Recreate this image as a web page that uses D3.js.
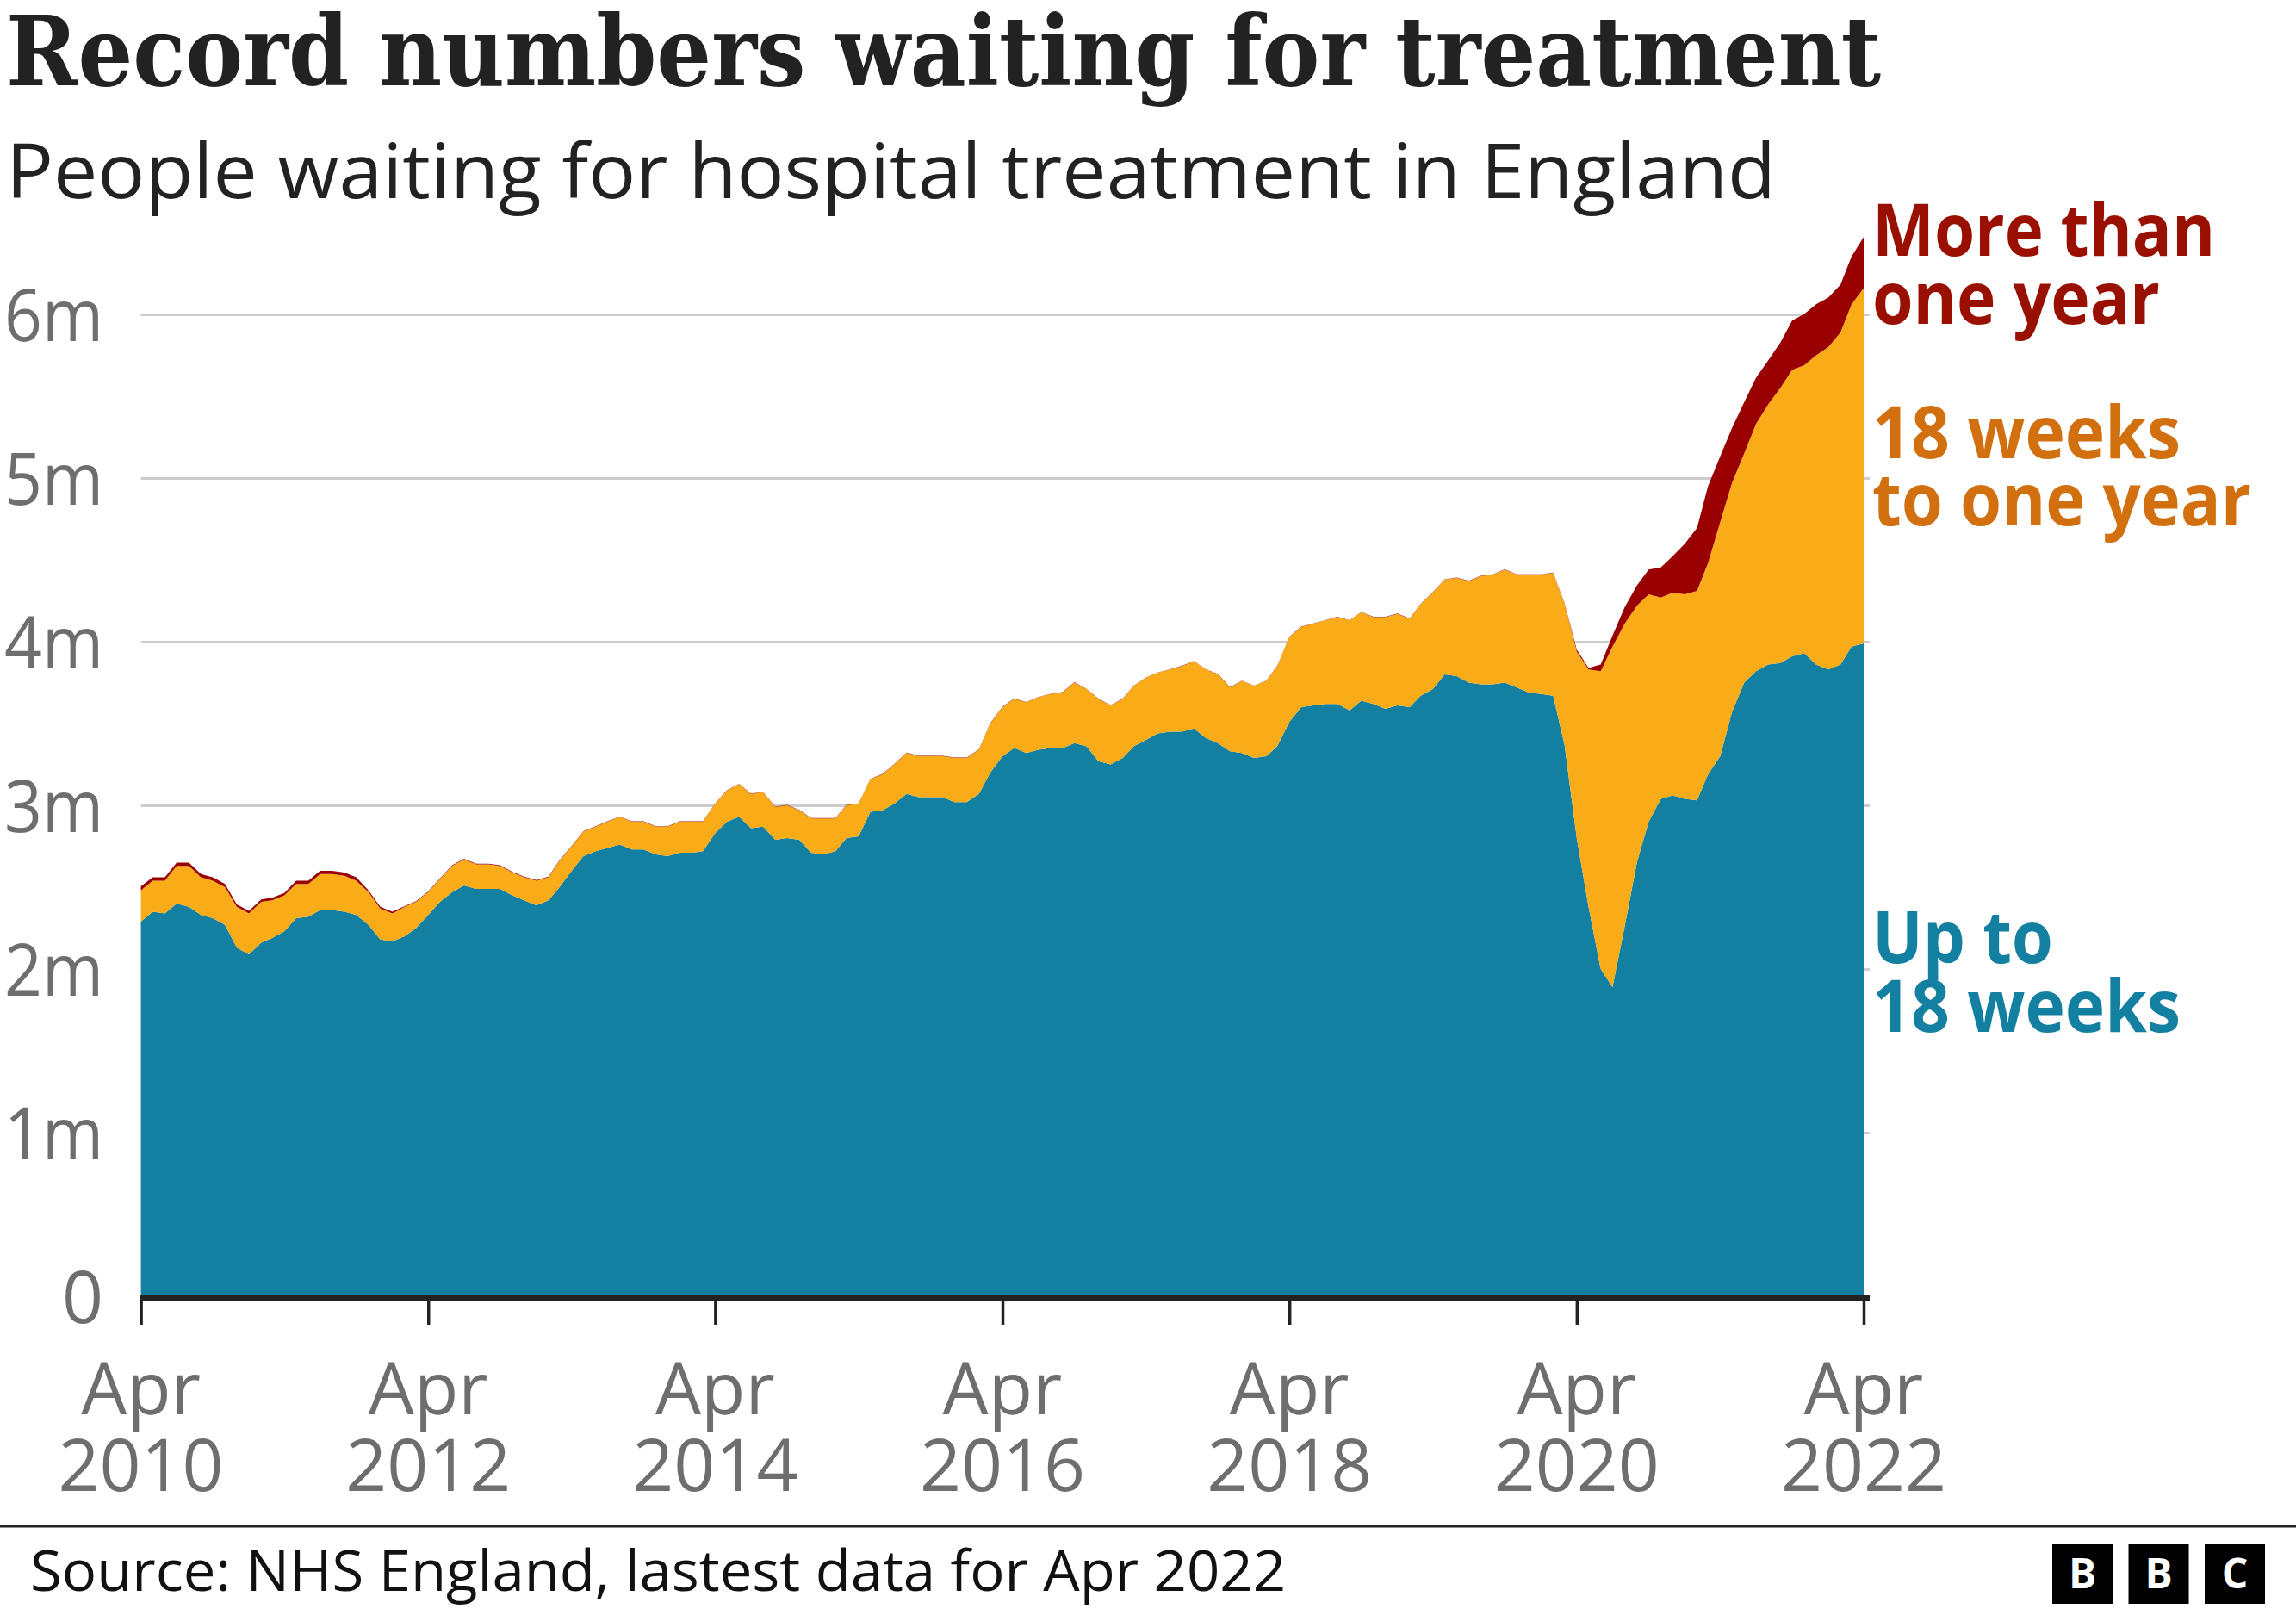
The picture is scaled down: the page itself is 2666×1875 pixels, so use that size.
<!DOCTYPE html>
<html>
<head>
<meta charset="utf-8">
<script src="https://cdn.jsdelivr.net/npm/d3@7"></script>
<style>
  html, body { margin: 0; padding: 0; background: #fff; }
  svg { display: block; }
</style>
</head>
<body>
<svg id="chart" width="2666" height="1875"></svg>
<script>
// ---------- DATA (millions of people, monthly from Apr 2010 to Apr 2022) ----------
const startMonth = "2010-04";
const seriesKeys = ["upTo18Weeks", "weeks18ToOneYear", "moreThanOneYear"];

const upTo18Weeks = [
  2.29, 2.35, 2.34, 2.40, 2.38, 2.33, 2.31, 2.27, 2.13, 2.09,
  2.16, 2.19, 2.23, 2.31, 2.32, 2.36, 2.36, 2.35, 2.33, 2.27,
  2.18, 2.17, 2.20, 2.25, 2.33, 2.41, 2.47, 2.51, 2.49, 2.49,
  2.49, 2.45, 2.42, 2.39, 2.42, 2.50, 2.60, 2.69, 2.72, 2.74,
  2.76, 2.73, 2.73, 2.70, 2.69, 2.71, 2.71, 2.72, 2.83, 2.90,
  2.93, 2.86, 2.87, 2.79, 2.80, 2.79, 2.71, 2.70, 2.72, 2.80,
  2.81, 2.96, 2.97, 3.01, 3.07, 3.05, 3.05, 3.05, 3.02, 3.02,
  3.07, 3.20, 3.30, 3.35, 3.32, 3.34, 3.35, 3.35, 3.38, 3.36,
  3.27, 3.25, 3.29, 3.36, 3.40, 3.44, 3.45, 3.45, 3.47, 3.41,
  3.38, 3.33, 3.32, 3.29, 3.30, 3.36, 3.51, 3.60, 3.61, 3.62,
  3.62, 3.58, 3.64, 3.62, 3.59, 3.61, 3.60, 3.67, 3.71, 3.80,
  3.79, 3.75, 3.74, 3.74, 3.75, 3.72, 3.69, 3.68, 3.67, 3.37,
  2.80, 2.38, 2.00, 1.89, 2.26, 2.65, 2.90, 3.04, 3.06, 3.04,
  3.03, 3.19, 3.30, 3.57, 3.75, 3.82, 3.86, 3.87, 3.91, 3.93,
  3.86, 3.83, 3.86, 3.97, 3.99
];

const weeks18ToOneYear = [
  0.19, 0.19, 0.20, 0.23, 0.25, 0.23, 0.23, 0.23, 0.25, 0.25,
  0.25, 0.23, 0.22, 0.21, 0.20, 0.22, 0.22, 0.22, 0.21, 0.20,
  0.19, 0.17, 0.18, 0.16, 0.14, 0.14, 0.16, 0.16, 0.15, 0.15,
  0.14, 0.14, 0.14, 0.15, 0.14, 0.16, 0.15, 0.15, 0.15, 0.16,
  0.17, 0.17, 0.17, 0.17, 0.18, 0.19, 0.19, 0.18, 0.18, 0.19,
  0.20, 0.21, 0.21, 0.20, 0.20, 0.18, 0.21, 0.22, 0.20, 0.20,
  0.20, 0.20, 0.22, 0.24, 0.25, 0.25, 0.25, 0.25, 0.27, 0.27,
  0.27, 0.30, 0.30, 0.30, 0.31, 0.32, 0.33, 0.34, 0.37, 0.35,
  0.38, 0.36, 0.36, 0.37, 0.38, 0.37, 0.38, 0.40, 0.41, 0.42,
  0.42, 0.39, 0.44, 0.44, 0.46, 0.49, 0.52, 0.49, 0.50, 0.51,
  0.53, 0.55, 0.54, 0.53, 0.56, 0.56, 0.54, 0.56, 0.59, 0.58,
  0.60, 0.62, 0.66, 0.67, 0.69, 0.69, 0.72, 0.73, 0.75, 0.86,
  1.14, 1.45, 1.82, 2.08, 1.85, 1.57, 1.39, 1.23, 1.24, 1.25,
  1.28, 1.29, 1.43, 1.40, 1.40, 1.51, 1.59, 1.68, 1.75, 1.76,
  1.89, 1.97, 2.03, 2.09, 2.17
];

const moreThanOneYear = [
  0.025, 0.020, 0.020, 0.020, 0.020, 0.020, 0.020, 0.020, 0.015, 0.015,
  0.015, 0.015, 0.015, 0.020, 0.020, 0.020, 0.020, 0.020, 0.020, 0.010,
  0.010, 0.010, 0.004, 0.004, 0.004, 0.004, 0.004, 0.004, 0.004, 0.004,
  0.004, 0.004, 0.004, 0.004, 0.004, 0.004, 0.002, 0.002, 0.002, 0.002,
  0.002, 0.002, 0.002, 0.002, 0.002, 0.002, 0.002, 0.002, 0.002, 0.002,
  0.002, 0.002, 0.002, 0.002, 0.002, 0.002, 0.002, 0.002, 0.002, 0.002,
  0.002, 0.002, 0.002, 0.002, 0.002, 0.002, 0.002, 0.002, 0.002, 0.002,
  0.002, 0.002, 0.002, 0.002, 0.002, 0.002, 0.002, 0.002, 0.002, 0.002,
  0.002, 0.002, 0.002, 0.002, 0.002, 0.002, 0.002, 0.002, 0.002, 0.002,
  0.002, 0.002, 0.002, 0.002, 0.002, 0.002, 0.002, 0.002, 0.002, 0.002,
  0.002, 0.002, 0.002, 0.002, 0.002, 0.002, 0.002, 0.002, 0.002, 0.002,
  0.002, 0.002, 0.002, 0.002, 0.002, 0.002, 0.002, 0.002, 0.002, 0.004,
  0.011, 0.010, 0.040, 0.067, 0.100, 0.124, 0.151, 0.184, 0.222, 0.309,
  0.385, 0.470, 0.403, 0.335, 0.313, 0.282, 0.269, 0.278, 0.302, 0.312,
  0.312, 0.303, 0.292, 0.292, 0.312
];

const yTickValues = [0, 1, 2, 3, 4, 5, 6];
const yTickLabels = ["0", "1m", "2m", "3m", "4m", "5m", "6m"];
const xTickYears = [2010, 2012, 2014, 2016, 2018, 2020, 2022];
const xTickMonthLabel = "Apr";

const seriesLabels = [
  { key: "moreThanOneYear", lines: ["More than", "one year"] },
  { key: "weeks18ToOneYear", lines: ["18 weeks", "to one year"] },
  { key: "upTo18Weeks", lines: ["Up to", "18 weeks"] }
];

const titleText = "Record numbers waiting for treatment";
const subtitleText = "People waiting for hospital treatment in England";
const sourceText = "Source: NHS England, lastest data for Apr 2022";

// ---------- BUILD ----------
const parseMonth = d3.timeParse("%Y-%m");
const start = parseMonth(startMonth);
const months = d3.range(upTo18Weeks.length).map(i => d3.timeMonth.offset(start, i));
const table = months.map((date, i) => ({
  date,
  upTo18Weeks: upTo18Weeks[i],
  weeks18ToOneYear: weeks18ToOneYear[i],
  moreThanOneYear: moreThanOneYear[i]
}));

const colors = {
  upTo18Weeks: "#1380a1",
  weeks18ToOneYear: "#faab18",
  moreThanOneYear: "#990000"
};
const labelColors = {
  upTo18Weeks: "#1380a1",
  weeks18ToOneYear: "#d2700f",
  moreThanOneYear: "#990f00"
};

const svg = d3.select("#chart");
const sans = "'Open Sans', 'Noto Sans', sans-serif";

const plotLeft = 163.6, plotRight = 2164, gridRight = 2171;
const yZero = 1505, ySix = 365;

const x = d3.scaleTime()
  .domain([months[0], months[months.length - 1]])
  .range([plotLeft, plotRight]);
const y = d3.scaleLinear().domain([0, 6]).range([yZero, ySix]);

// Title & subtitle
svg.append("text")
  .attr("x", 7).attr("y", 99)
  .attr("font-family", "'DejaVu Serif', serif")
  .attr("font-weight", "bold")
  .attr("font-size", 113)
  .attr("fill", "#222")
  .attr("textLength", 2177)
  .attr("lengthAdjust", "spacingAndGlyphs")
  .text(titleText);

svg.append("text")
  .attr("x", 7).attr("y", 230)
  .attr("font-family", sans)
  .attr("font-size", 88)
  .attr("fill", "#222")
  .attr("textLength", 2055)
  .attr("lengthAdjust", "spacingAndGlyphs")
  .text(subtitleText);

// Gridlines
const grid = svg.append("g")
  .attr("transform", `translate(${plotLeft},0)`)
  .call(d3.axisLeft(y)
    .tickValues(yTickValues.filter(v => v > 0))
    .tickSize(-(gridRight - plotLeft))
    .tickFormat(""));
grid.select(".domain").remove();
grid.selectAll(".tick line").attr("stroke", "#cccccc").attr("stroke-width", 3);

// Y labels
svg.append("g").selectAll("text")
  .data(yTickValues)
  .join("text")
  .attr("x", 120)
  .attr("y", d => y(d) + 31)
  .attr("text-anchor", "end")
  .attr("font-family", sans)
  .attr("font-size", 84)
  .attr("fill", "#6e6e6e")
  .each(function (d, i) {
    if (yTickLabels[i].length > 1) {
      d3.select(this).attr("textLength", 115).attr("lengthAdjust", "spacingAndGlyphs");
    }
  })
  .text((d, i) => yTickLabels[i]);

// Stacked areas
const stack = d3.stack().keys(seriesKeys);
const layers = stack(table);
const area = d3.area()
  .x(d => x(d.data.date))
  .y0(d => y(d[0]))
  .y1(d => y(d[1]));

svg.append("g").selectAll("path")
  .data(layers)
  .join("path")
  .attr("fill", d => colors[d.key])
  .attr("d", area);

// X axis ticks
const tickDates = xTickYears.map(yr => new Date(yr, 3, 1));
const xAxisG = svg.append("g")
  .attr("transform", `translate(0,${yZero})`)
  .call(d3.axisBottom(x).tickValues(tickDates).tickSize(33).tickFormat(""));
xAxisG.select(".domain").remove();
xAxisG.selectAll(".tick line").attr("stroke", "#222").attr("stroke-width", 3.5);

// Thick baseline
svg.append("line")
  .attr("x1", plotLeft - 1.5).attr("x2", gridRight)
  .attr("y1", yZero + 2).attr("y2", yZero + 2)
  .attr("stroke", "#222").attr("stroke-width", 8);

// X tick labels (two lines)
const xl = svg.append("g").selectAll("g")
  .data(tickDates)
  .join("g");
xl.append("text")
  .attr("x", d => x(d)).attr("y", 1642)
  .attr("text-anchor", "middle")
  .attr("font-family", sans).attr("font-size", 84)
  .attr("fill", "#6e6e6e")
  .text(xTickMonthLabel);
xl.append("text")
  .attr("x", d => x(d)).attr("y", 1731)
  .attr("text-anchor", "middle")
  .attr("font-family", sans).attr("font-size", 84)
  .attr("fill", "#6e6e6e")
  .text(d => d.getFullYear());

// Series labels on the right
const labelPos = {
  moreThanOneYear: { ys: [297, 375.5], widths: [398, 334] },
  weeks18ToOneYear: { ys: [531.5, 610], widths: [358, 440] },
  upTo18Weeks: { ys: [1117.5, 1198], widths: [210, 358] }
};
seriesLabels.forEach(s => {
  s.lines.forEach((line, i) => {
    svg.append("text")
      .attr("x", 2174)
      .attr("y", labelPos[s.key].ys[i])
      .attr("font-family", sans)
      .attr("font-weight", "bold")
      .attr("font-size", 84)
      .attr("fill", labelColors[s.key])
      .attr("textLength", labelPos[s.key].widths[i])
      .attr("lengthAdjust", "spacingAndGlyphs")
      .text(line);
  });
});

// Footer
svg.append("line")
  .attr("x1", 0).attr("x2", 2666)
  .attr("y1", 1772).attr("y2", 1772)
  .attr("stroke", "#222").attr("stroke-width", 3);

svg.append("text")
  .attr("x", 35).attr("y", 1847)
  .attr("font-family", sans)
  .attr("font-size", 66)
  .attr("fill", "#111")
  .attr("textLength", 1458)
  .attr("lengthAdjust", "spacingAndGlyphs")
  .text(sourceText);

// BBC logo
const logo = svg.append("g");
["B", "B", "C"].forEach((ch, i) => {
  const bx = 2383 + i * 88.5;
  logo.append("rect")
    .attr("x", bx).attr("y", 1792)
    .attr("width", 70).attr("height", 70)
    .attr("fill", "#000");
  logo.append("text")
    .attr("x", bx + 35).attr("y", 1844)
    .attr("text-anchor", "middle")
    .attr("font-family", sans)
    .attr("font-weight", "bold")
    .attr("font-size", 48)
    .attr("fill", "#fff")
    .text(ch);
});
</script>
</body>
</html>
